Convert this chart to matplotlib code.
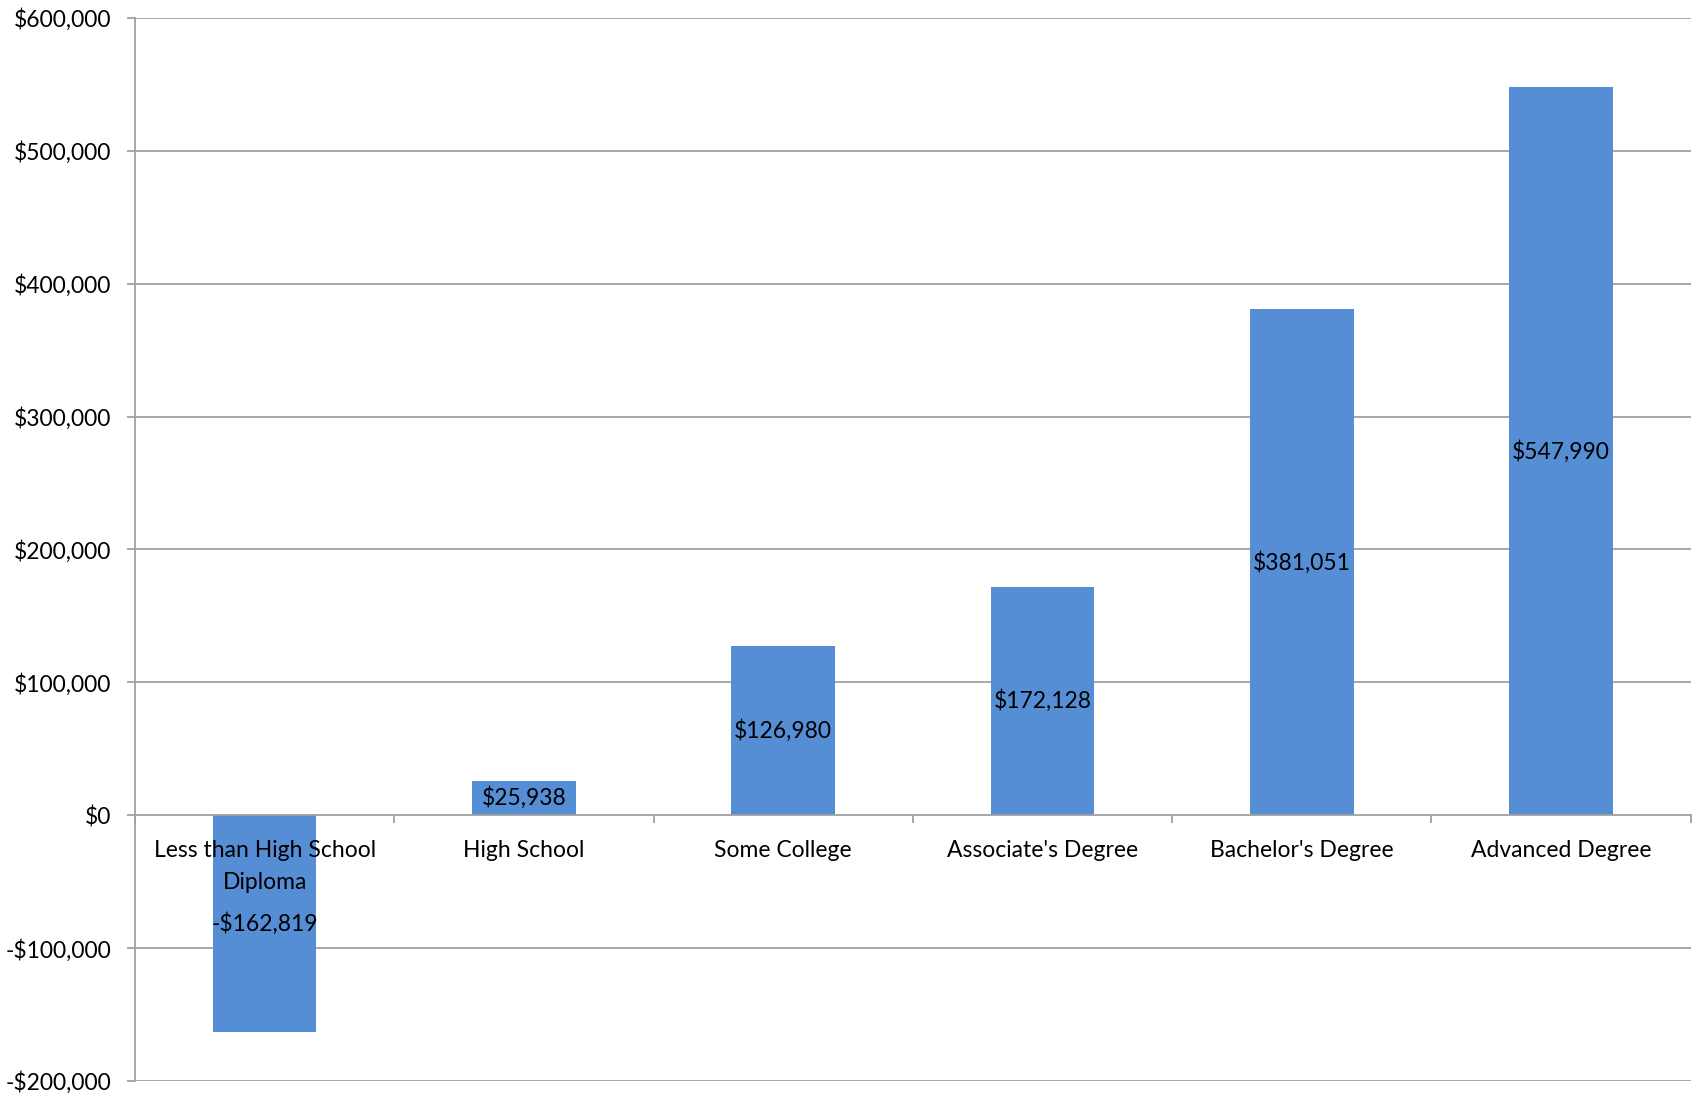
import matplotlib.pyplot as plt
import numpy as np

categories = ["Less than High School\nDiploma", "High School", "Some College",
              "Associate's Degree", "Bachelor's Degree", "Advanced Degree"]
values = [-162819, 25938, 126980, 172128, 381051, 547990]
yticks = [-200000, -100000, 0, 100000, 200000, 300000, 400000, 500000, 600000]

plt.rcParams['font.family'] = ['Lato', 'DejaVu Sans']

def money(v):
    return f"-${-v:,}" if v < 0 else f"${v:,}"

fig = plt.figure(figsize=(16.94, 10.95), dpi=100)
ax = fig.add_axes([0.0797, 0.0128, 0.9183, 0.9708])

x = np.arange(len(categories))
bars = ax.bar(x, values, width=0.4, color="#558ed5", zorder=1)
ax.bar_label(bars, labels=[money(v) for v in values], label_type="center",
             fontsize=16.5, color="black")

# gridlines behind the bars
for t in yticks:
    if t != 0:
        ax.axhline(t, color="#a0a0a0", lw=1.3, zorder=0)

ax.set_xlim(-0.5, len(categories) - 0.5)
ax.set_ylim(yticks[0], yticks[-1])
ax.set_yticks(yticks)
ax.set_yticklabels([money(t) for t in yticks])

# tick marks sit between the categories
ax.set_xticks(np.arange(len(categories) + 1) - 0.5)
ax.set_xticklabels([])

for s in ["top", "right"]:
    ax.spines[s].set_visible(False)
ax.spines["bottom"].set_position(("data", 0))
for s in ["left", "bottom"]:
    ax.spines[s].set_color("#a0a0a0")
    ax.spines[s].set_linewidth(1.3)

ax.tick_params(axis="y", length=6, width=1.3, color="#a0a0a0", pad=11,
               labelsize=16.5)
ax.tick_params(axis="x", which="major", direction="out", length=6, width=1.3,
               color="#a0a0a0")

# category names just under the zero line
for xi, name in zip(x, categories):
    ax.annotate(name, xy=(xi, 0), xycoords=("data", "data"),
                xytext=(0, -17.5), textcoords="offset points",
                ha="center", va="top", fontsize=16.5, linespacing=1.7,
                zorder=3)

fig.savefig("out.png")
